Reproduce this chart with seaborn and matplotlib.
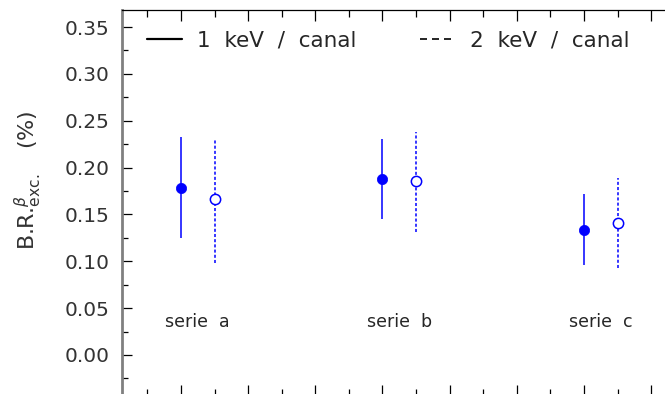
import numpy as np
import pandas as pd
import seaborn as sns
import matplotlib.pyplot as plt
from matplotlib.ticker import MultipleLocator, FormatStrFormatter
from matplotlib.lines import Line2D

# values
series = ['serie  a', 'serie  b', 'serie  c']
val_1kev = [0.1785, 0.1875, 0.1334]
lo_1kev = [0.1245, 0.1450, 0.0957]
hi_1kev = [0.2330, 0.2305, 0.1715]
val_2kev = [0.1662, 0.1857, 0.1412]
lo_2kev = [0.0985, 0.1316, 0.0925]
hi_2kev = [0.2295, 0.2377, 0.1890]

pos = np.arange(len(series)) * 3.0
df = pd.DataFrame({
    'x': np.concatenate([pos, pos + 0.5]),
    'y': val_1kev + val_2kev,
    'lo': lo_1kev + lo_2kev,
    'hi': hi_1kev + hi_2kev,
    'bin': ['1 keV'] * 3 + ['2 keV'] * 3,
})

sns.set_style('ticks')
plt.rcParams['font.family'] = ['DejaVu Sans']

fig = plt.figure(figsize=(6.65, 3.94), dpi=100)
# axes run a bit past the right and bottom edges of the picture, like the reference
ax = fig.add_axes([122 / 665, -2 / 394, 548 / 665, 386.5 / 394])

one = df[df['bin'] == '1 keV']
two = df[df['bin'] == '2 keV']
ax.vlines(one['x'], one['lo'], one['hi'], color='#0000ff', lw=1.1, zorder=2)
ax.vlines(two['x'], two['lo'], two['hi'], color='#0000ff', lw=1.1,
          linestyles=(0, (2.0, 1.4)), zorder=2)
sns.scatterplot(data=one, x='x', y='y', ax=ax, color='#0000ff', s=55,
                edgecolor='#0000ff', linewidth=0.5, zorder=3, legend=False)
sns.scatterplot(data=two, x='x', y='y', ax=ax, facecolor='white', s=55,
                edgecolor='#0000ff', linewidth=1.1, zorder=3, legend=False)

for p, name in zip(pos, series):
    ax.text(p + 0.25, 0.035, name, ha='center', va='center', fontsize=12.5)

ax.set_xlim(-0.878, 7.28)
ax.set_ylim(-0.0438, 0.3687)
ax.xaxis.set_major_locator(MultipleLocator(1))
ax.xaxis.set_minor_locator(MultipleLocator(0.5))
ax.yaxis.set_major_locator(MultipleLocator(0.05))
ax.yaxis.set_minor_locator(MultipleLocator(0.025))
ax.yaxis.set_major_formatter(FormatStrFormatter('%.2f'))

ax.tick_params(axis='both', which='both', direction='in', top=True,
               right=False, color='black', width=0.9)
ax.tick_params(axis='x', which='major', length=8, labelbottom=False)
ax.tick_params(axis='x', which='minor', length=5)
ax.tick_params(axis='y', which='major', length=7, labelsize=14.5, pad=9,
               labelcolor='#333333')
ax.tick_params(axis='y', which='minor', length=4)

ax.spines['left'].set_color('#808080')
ax.spines['left'].set_linewidth(2)
ax.spines['top'].set_visible(True)
ax.spines['top'].set_color('black')
ax.spines['top'].set_linewidth(0.9)
ax.spines['right'].set_visible(False)
ax.set_xlabel('')
ax.set_ylabel(r'B.R.$^{\beta}_{\rm exc.}$   (%)', fontsize=16, color='#333333')
ax.yaxis.set_label_coords(-0.142, 0.559)

handles = [Line2D([], [], color='black', lw=1.6),
           Line2D([], [], color='black', lw=1.2, linestyle=(0, (4.2, 3)))]
ax.legend(handles, ['1  keV  /  canal', '2  keV  /  canal'], ncol=2,
          frameon=False, loc='upper left', bbox_to_anchor=(0.0456, 0.945),
          borderaxespad=0, borderpad=0, fontsize=15.5, handlelength=1.63,
          handletextpad=0.7, columnspacing=2.93)

fig.savefig('out.png', dpi=100)
